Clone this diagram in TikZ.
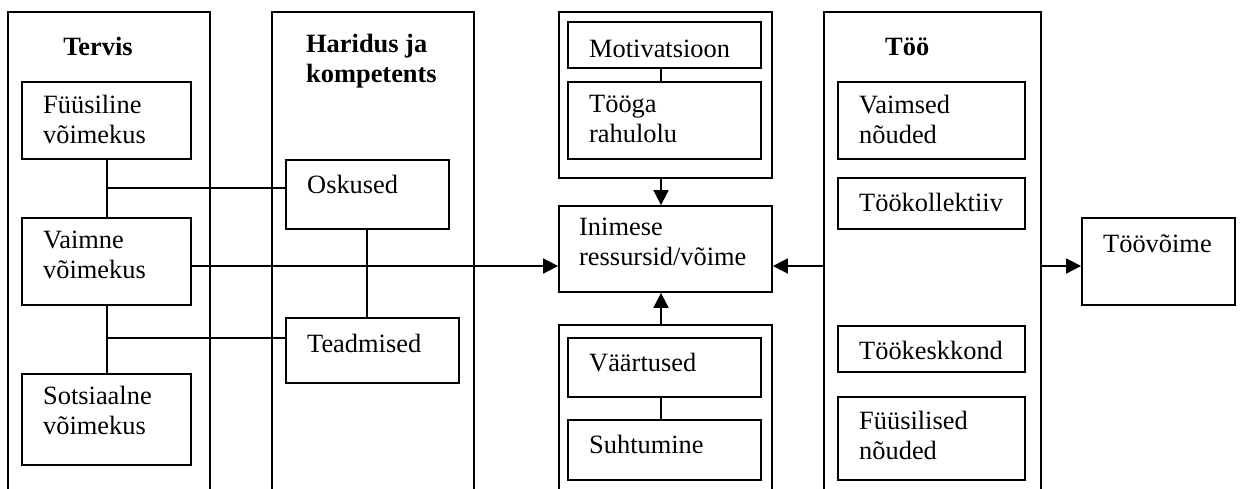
\documentclass[tikz,border=0pt]{standalone}
\usepackage{fontspec}
\setmainfont{Liberation Serif}
\usetikzlibrary{fit,arrows.meta}
\tikzset{
  box/.style={draw, line width=1.8pt, inner sep=0pt, rectangle},
  txt/.style={inner sep=0pt, align=left, anchor=north west,
     font=\fontsize{26.4}{30.4}\selectfont, execute at begin node=\strut},
  ttl/.style={inner sep=0pt, align=left, anchor=north west,
     font=\fontsize{26.4}{30.4}\selectfont\bfseries, execute at begin node=\strut},
  conn/.style={line width=1.8pt},
  arr/.style={line width=1.8pt, -{Triangle[length=15pt,width=15pt]}}
}
\begin{document}
\begin{tikzpicture}[x=1pt,y=-1pt]
\useasboundingbox (0,0) rectangle (1242,488);
\clip (0,0) rectangle (1242,488);
% outer group boxes
\node[box, fit={(8,12) (210,510)}] (ter) {};
\node[box, fit={(272,12) (474,510)}] (har) {};
\node[box, fit={(559,12) (772,178)}] (top) {};
\node[box, fit={(559,325) (772,510)}] (bot) {};
\node[box, fit={(824,12) (1041,510)}] (too) {};
% inner boxes
\node[box, fit={(22,82) (191,159)}] (fys) {};
\node[box, fit={(22,218) (191,305)}] (vai) {};
\node[box, fit={(22,374) (191,465)}] (sot) {};
\node[box, fit={(286,160) (449,229)}] (osk) {};
\node[box, fit={(286,318) (459,383)}] (tea) {};
\node[box, fit={(568,22) (761,68)}] (mot) {};
\node[box, fit={(568,82) (761,159)}] (tog) {};
\node[box, fit={(559,206) (772,292)}] (ini) {};
\node[box, fit={(568,338) (761,397)}] (vaa) {};
\node[box, fit={(568,420) (761,480)}] (suh) {};
\node[box, fit={(838,82) (1025,159)}] (vno) {};
\node[box, fit={(838,178) (1025,229)}] (tko) {};
\node[box, fit={(838,326) (1025,372)}] (tke) {};
\node[box, fit={(838,397) (1025,480)}] (fno) {};
\node[box, fit={(1082,218) (1235,305)}] (tvo) {};
% titles
\node[ttl, anchor=base] (tTer) at (98,55) {Tervis};
\node[ttl] (tHar) at (306,33.7) {Haridus ja\\kompetents};
\node[ttl, anchor=base west] (tToo) at (885,55) {Töö};
% texts
\node[txt] (xFys) at (43,94.7) {Füüsiline\\võimekus};
\node[txt] (xVai) at (43,230.7) {Vaimne\\võimekus};
\node[txt] (xSot) at (43,385.7) {Sotsiaalne\\võimekus};
\node[txt, anchor=base west] (xOsk) at (307,193) {Oskused};
\node[txt, anchor=base west] (xTea) at (307,352) {Teadmised};
\node[txt, anchor=base west] (xMot) at (589,57) {Motivatsioon};
\node[txt] (xTog) at (589,94.7) {Tööga\\rahulolu};
\node[txt] (xIni) at (579,217.7) {Inimese\\ressursid/võime};
\node[txt, anchor=base west] (xVaa) at (589,371) {Väärtused};
\node[txt, anchor=base west] (xSuh) at (589,453) {Suhtumine};
\node[txt] (xVno) at (859,94.7) {Vaimsed\\nõuded};
\node[txt, anchor=base west] (xTko) at (859,211) {Töökollektiiv};
\node[txt, anchor=base west] (xTke) at (859,359) {Töökeskkond};
\node[txt] (xFno) at (859,410.7) {Füüsilised\\nõuded};
\node[txt, anchor=base west] (xTvo) at (1103,252) {Töövõime};
% helper coordinates
\coordinate (ay) at (0,266);
\coordinate (ax) at (661,0);
\coordinate (bx) at (367,0);
\coordinate (j1) at (107,188);
\coordinate (j2) at (107,338);
% connectors
\draw[conn] (j1 |- fys.south) -- (j1 |- vai.north);
\draw[conn] (j2 |- vai.south) -- (j2 |- sot.north);
\draw[conn] (j1) -- (osk.west |- j1);
\draw[conn] (j2) -- (tea.west |- j2);
\draw[conn] (osk.south -| bx) -- (tea.north -| bx);
\draw[conn] (mot.south -| ax) -- (tog.north -| ax);
\draw[conn] (vaa.south -| ax) -- (suh.north -| ax);
\draw[arr] (vai.east |- ay) -- (ini.west |- ay);
\draw[arr] (top.south -| ax) -- (ini.north -| ax);
\draw[arr] (bot.north -| ax) -- (ini.south -| ax);
\draw[arr] (too.west |- ay) -- (ini.east |- ay);
\draw[arr] (too.east |- ay) -- (tvo.west |- ay);
\end{tikzpicture}
\end{document}
